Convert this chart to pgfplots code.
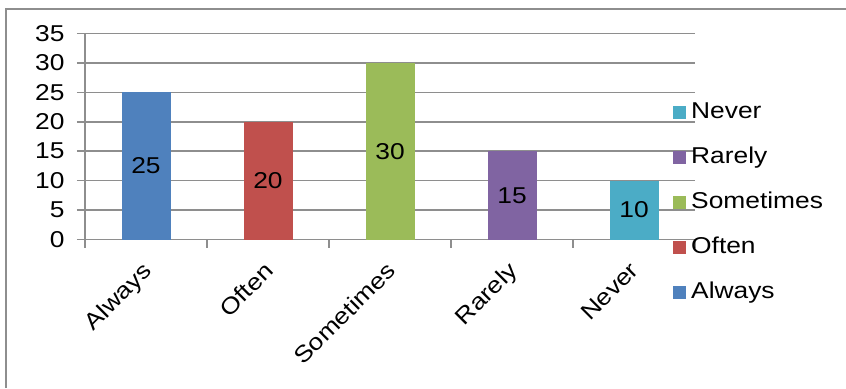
\documentclass[border=0pt]{standalone}
\usepackage{fontspec}
\setmainfont[FakeStretch=1.15]{Liberation Sans}
\usepackage{pgfplots}
\pgfplotsset{compat=1.18}

\definecolor{cAlways}{HTML}{4F81BD}
\definecolor{cOften}{HTML}{C0504D}
\definecolor{cSometimes}{HTML}{9BBB59}
\definecolor{cRarely}{HTML}{8064A2}
\definecolor{cNever}{HTML}{4BACC6}
\definecolor{linegray}{HTML}{8E8E8E}

\pgfplotsset{
  catbar/.style={
    ybar, bar width=49bp, bar shift=0pt, draw=none,
    legend image code/.code={\fill[##1] (0bp,-6.5bp) rectangle (13bp,6.5bp); \path (18bp,0bp);},
  },
}

\newcommand{\chartfont}{\fontsize{23}{27}\selectfont}

\begin{document}
\begin{tikzpicture}[x=1bp,y=1bp]
\useasboundingbox (0,0) rectangle (846,388);
% outer frame (left and top edges only)
\draw[linegray, line width=2bp] (6,0) -- (6,379) -- (846,379);
\begin{axis}[
  at={(85bp,148.5bp)}, anchor=south west,
  scale only axis, width=610bp, height=206bp,
  xmin=-0.5, xmax=4.5, ymin=0, ymax=35,
  axis x line*=bottom, axis y line*=left,
  axis line style={linegray, line width=1.5bp, -},
  ytick={0,5,...,35},
  ymajorgrids,
  major grid style={linegray, line width=1.5bp},
  xtick={0,...,4},
  xticklabels={Always,Often,Sometimes,Rarely,Never},
  minor xtick={-0.5,0.5,...,4.5},
  major x tick style={draw=none},
  minor x tick style={linegray, line width=1.5bp},
  y tick style={linegray, line width=1.5bp},
  tick align=outside,
  major tick length=8bp, minor tick length=8bp,
  /pgf/number format/assume math mode=true,
  tick label style={font=\chartfont, text=black},
  yticklabel style={anchor=east, xshift=-9bp},
  xticklabel style={xshift=-5bp, yshift=-13bp, rotate=45, anchor=north east, inner sep=0pt},
  nodes near coords,
  visualization depends on=rawy \as \rawy,
  every node near coord/.append style={font=\chartfont, text=black, anchor=center,
    shift={(axis direction cs:0,-\rawy/2)}},
  reverse legend,
  legend cell align=left,
  legend style={draw=none, fill=none, font=\chartfont,
    at={(0.959,0.677)}, anchor=north west,
    row sep=24bp, column sep=0pt,
    nodes={inner sep=0pt, text height=16bp, text depth=5bp}},
]
\addplot[catbar, fill=cAlways] coordinates {(0,25)};
\addlegendentry{Always}
\addplot[catbar, fill=cOften] coordinates {(1,20)};
\addlegendentry{Often}
\addplot[catbar, fill=cSometimes] coordinates {(2,30)};
\addlegendentry{Sometimes}
\addplot[catbar, fill=cRarely] coordinates {(3,15)};
\addlegendentry{Rarely}
\addplot[catbar, fill=cNever] coordinates {(4,10)};
\addlegendentry{Never}
\end{axis}
\end{tikzpicture}
\end{document}
